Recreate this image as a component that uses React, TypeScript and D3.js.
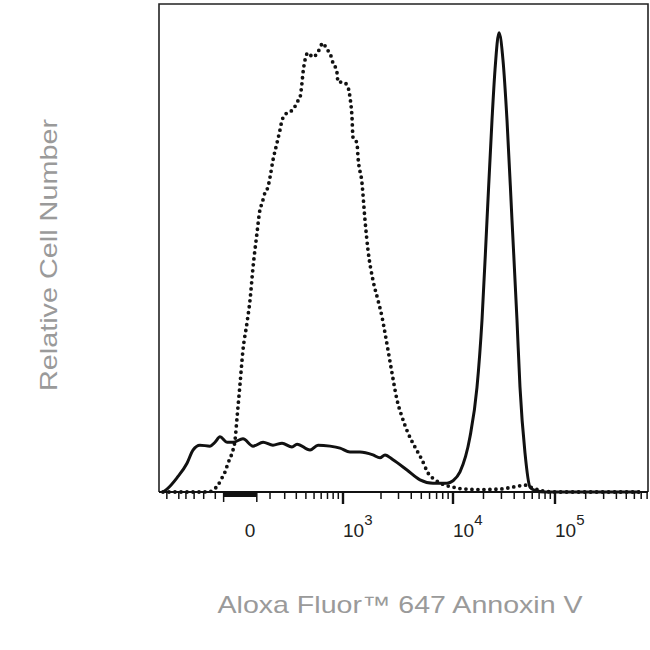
import React from "react";
import * as d3 from "d3";

// Fluorescence values (biexponential display) and relative counts (% of axis height)
const solidX = [-874, -797, -628, -486, -413, -337, -243, -202, -165, -118, -82, -31, 13, 61, 118, 180, 260, 307, 449, 554, 743, 935, 1142, 1375, 1737, 1965, 2197, 2645, 3636, 4860, 6470, 8780, 10000, 11735, 14735, 17275, 19343, 21661, 24251, 25953, 28405, 31073, 34017, 38065, 42596, 45563, 50981, 57063, 63848, 79902, 140000, 680000];
const solidY = [0, 0.6, 2.9, 5.9, 8.6, 9.6, 9.4, 10.2, 11.3, 10.2, 10.2, 10.9, 9.4, 10.2, 9.6, 10.0, 9.2, 9.8, 8.6, 9.6, 9.4, 9.0, 8.2, 8.2, 7.6, 7.0, 7.6, 6.6, 4.5, 2.5, 1.8, 1.8, 2.3, 4.1, 11.3, 21.5, 35.2, 55.7, 76.2, 86.5, 94.1, 88.5, 76.2, 55.7, 35.2, 21.5, 8.0, 1.0, 0.3, 0, 0, 0];

const dottedX = [-874, -337, -243, -218, -180, -151, -131, -112, -88, -71, -61, -45, -31, -13, 0, 13, 31, 45, 56, 71, 88, 100, 118, 144, 165, 180, 218, 269, 307, 337, 357, 368, 390, 424, 486, 554, 628, 692, 743, 779, 874, 894, 1000, 1080, 1142, 1186, 1208, 1301, 1326, 1426, 1506, 1589, 1737, 1898, 2048, 2197, 2356, 2584, 2899, 3248, 3718, 4348, 5078, 5798, 6762, 8407, 10000, 11735, 18485, 29050, 36400, 43570, 50981, 61020, 76400, 100000, 680000];
const dottedY = [0, 0, 0.1, 0.4, 1.4, 2.9, 4.1, 5.9, 8.0, 10.7, 15.0, 22.3, 29.1, 34.6, 39.3, 46.1, 53.1, 57.8, 59.2, 61.3, 62.5, 64.5, 68.0, 71.5, 74.2, 76.2, 77.7, 78.3, 79.9, 80.9, 83.8, 85.9, 88.5, 90.0, 89.1, 90.2, 92.0, 90.6, 90.0, 88.5, 85.9, 84.0, 84.0, 83.4, 80.9, 76.8, 72.7, 71.5, 68.6, 63.3, 55.7, 49.6, 43.4, 39.3, 35.9, 32.6, 29.1, 24.4, 18.9, 15.4, 12.1, 9.2, 6.6, 3.9, 2.5, 1.4, 1.0, 0.7, 0.5, 0.6, 0.9, 1.2, 1.4, 0.8, 0.2, 0, 0];

// Axis ticks
const majorTicks = [0, 1000, 10000, 100000];
const majorBase = ["0", "10", "10", "10"];
const majorExp = ["", "3", "4", "5"];
const minorTicks = [-800, -600, -500, -400, -300, -200, 100, 200, 300, 400, 500, 600, 700, 800, 900,
  2000, 3000, 4000, 5000, 6000, 7000, 8000, 9000,
  20000, 30000, 40000, 50000, 60000, 70000, 80000, 90000,
  200000, 300000, 400000, 500000, 600000, 700000, 800000];
const linearBand = [-140, 30];

const xLabel = "Aloxa Fluor\u2122 647 Annoxin V";
const yLabel = "Relative Cell Number";

export default function App() {
  const left = 159, right = 648, top = 4, bottom = 492;
  const x = d3.scaleSymlog()
    .constant(230)
    .domain([-1000, 0, 1000, 2000, 10000, 100000, 1000000])
    .range([157, 250, 343, 381, 453, 555, 657]);
  const y = d3.scaleLinear().domain([0, 100]).range([bottom, top]);

  const line = d3.line<[number, number]>()
    .x((d) => x(d[0]))
    .y((d) => y(d[1]))
    .curve(d3.curveMonotoneX);

  const solid = line(solidX.map((v, i) => [v, solidY[i]] as [number, number])) || "";
  const dotted = line(dottedX.map((v, i) => [v, dottedY[i]] as [number, number])) || "";

  const font = "'Liberation Sans', Arial, sans-serif";

  return (
    <svg width={650} height={650} style={{ position: "absolute", left: 0, top: 0, background: "#fff" }}>
      <defs>
        <clipPath id="plotClip">
          <rect x={left} y={top - 2} width={right - left} height={bottom - top + 4} />
        </clipPath>
      </defs>
      <g clipPath="url(#plotClip)">
        <path d={dotted} fill="none" stroke="#111" strokeWidth={3.8} strokeLinecap="round" strokeDasharray="0 6" />
        <path d={solid} fill="none" stroke="#111" strokeWidth={3} strokeLinejoin="round" />
      </g>
      {/* frame */}
      <path d={`M${left},${bottom} V${top} H${right} V${bottom}`} fill="none" stroke="#222" strokeWidth={1.6} />
      <line x1={left} x2={right} y1={bottom} y2={bottom} stroke="#111" strokeWidth={2} />
      {/* minor ticks */}
      {minorTicks.filter((t) => x(t) <= right).map((t) => (
        <line key={"m" + t} x1={x(t)} x2={x(t)} y1={bottom} y2={bottom + 7} stroke="#111" strokeWidth={1.5} />
      ))}
      {/* major ticks */}
      {majorTicks.slice(1).map((t) => (
        <line key={"M" + t} x1={x(t)} x2={x(t)} y1={bottom} y2={bottom + 12} stroke="#111" strokeWidth={2.4} />
      ))}
      {/* dense linear-region ticks */}
      <rect x={x(linearBand[0])} y={bottom} width={x(linearBand[1]) - x(linearBand[0])} height={5} fill="#111" />
      {linearBand.map((t) => (
        <line key={"b" + t} x1={x(t)} x2={x(t)} y1={bottom} y2={bottom + 10} stroke="#111" strokeWidth={1.5} />
      ))}
      {/* tick labels */}
      {majorTicks.map((t, i) => (
        <text key={"l" + t} x={x(t)} y={537} fontFamily={font} fontSize={19} fill="#222"
          textAnchor={i === 0 ? "middle" : "start"}>
          {majorBase[i]}
          {majorExp[i] && <tspan dy={-12} fontSize={15}>{majorExp[i]}</tspan>}
        </text>
      ))}
      {/* axis titles */}
      <text x={400} y={613} fontFamily={font} fontSize={24} fill="#9a9a9a" textAnchor="middle"
        textLength={365} lengthAdjust="spacingAndGlyphs">{xLabel}</text>
      <text transform="translate(57,255) rotate(-90)" fontFamily={font} fontSize={24} fill="#9a9a9a"
        textAnchor="middle" textLength={272} lengthAdjust="spacingAndGlyphs">{yLabel}</text>
    </svg>
  );
}
